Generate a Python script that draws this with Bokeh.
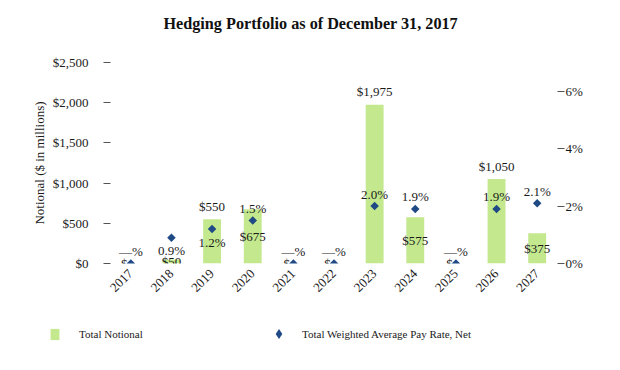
import math
from bokeh.plotting import figure
from bokeh.models import (ColumnDataSource, FactorRange, Range1d, LinearAxis, FixedTicker,
                          NumeralTickFormatter, PrintfTickFormatter, Legend, LegendItem, Label)
from bokeh.core.properties import value
from bokeh.embed import file_html
from bokeh.resources import INLINE

years = ["2017", "2018", "2019", "2020", "2021", "2022", "2023", "2024", "2025", "2026", "2027"]
notional = [0, 50, 550, 675, 0, 0, 1975, 575, 0, 1050, 375]
pay_rate = [0.0, 0.9, 1.2, 1.5, 0.0, 0.0, 2.0, 1.9, 0.0, 1.9, 2.1]
notional_labels = ["$\u2014", "$50", "$550", "$675", "$\u2014", "$\u2014", "$1,975", "$575", "$\u2014", "$1,050", "$375"]
rate_labels = ["\u2014%", "0.9%", "1.2%", "1.5%", "\u2014%", "\u2014%", "2.0%", "1.9%", "\u2014%", "1.9%", "2.1%"]
notional_label_place = ["center", "center", "end", "center", "center", "center", "end", "center", "center", "end", "center"]
rate_label_place = ["above", "below", "below", "above", "above", "above", "above", "above", "above", "above", "above"]
left_ticks = [0, 500, 1000, 1500, 2000, 2500]
right_ticks = [0, 2, 4, 6]
title_text = "Hedging Portfolio as of December 31, 2017"

FONT = "Liberation Serif"
BAR = "#C3E88D"
DIAMOND = "#1F4A85"
TXT = "#1a1a1a"
W = 616

src = ColumnDataSource(dict(
    year=years, notional=notional, rate=pay_rate,
    nlab=notional_labels, rlab=rate_labels,
    ny=[v if pl == "end" else v / 2 for v, pl in zip(notional, notional_label_place)],
    nyoff=[-13 if pl == "end" else 0 for pl in notional_label_place],
    ryoff=[-12 if pl == "above" else 13 for pl in rate_label_place],
))


def strip(height):
    f = figure(width=W, height=height, x_range=FactorRange(*years), y_range=Range1d(5000, 5001),
               output_backend="svg", toolbar_location=None, x_axis_location=None, y_axis_location=None,
               min_border_left=0, min_border_right=0, min_border_top=0, min_border_bottom=0)
    f.outline_line_color = None
    f.grid.grid_line_color = None
    return f


# title strip
tf = strip(40)
tf.add_layout(Label(x=163, y=17, x_units="screen", y_units="screen", text=title_text,
                    text_font=FONT, text_font_size="16.2px", text_font_style="bold",
                    text_color="#111111", text_align="left", text_baseline="middle"))

# main chart
p = figure(width=W, height=260, x_range=FactorRange(*years), y_range=Range1d(0, 2500),
           output_backend="svg", toolbar_location=None,
           min_border_left=110, min_border_right=59, min_border_top=22, min_border_bottom=37)
p.extra_y_ranges = {"pct": Range1d(0, 7)}
p.outline_line_color = None
p.grid.grid_line_color = None

p.vbar(x="year", top="notional", width=0.44, source=src, fill_color=BAR, line_color=None)

p.text(x="year", y="ny", text="nlab", y_offset="nyoff", source=src, text_font=value(FONT),
       text_font_size="13px", text_align="center", text_baseline="middle", text_color=TXT)
p.text(x="year", y="rate", text="rlab", y_offset="ryoff", y_range_name="pct", source=src,
       text_font=value(FONT), text_font_size="13px", text_align="center", text_baseline="middle",
       text_color=TXT)

p.scatter(x="year", y="rate", y_range_name="pct", source=src, marker="square", angle=math.pi / 4,
          size=6, fill_color=DIAMOND, line_color=None)

ya = p.yaxis[0]
ya.ticker = FixedTicker(ticks=left_ticks)
ya.formatter = NumeralTickFormatter(format="$0,0")
ya.axis_line_color = None
ya.major_tick_in = 0
ya.major_tick_out = 7
ya.minor_tick_line_color = None
ya.major_tick_line_color = "#555555"
ya.major_label_standoff = 15
ya.major_label_text_font = FONT
ya.major_label_text_font_size = "13px"
ya.major_label_text_color = TXT
ya.axis_label = "Notional ($ in millions)"
ya.axis_label_text_font = FONT
ya.axis_label_text_font_size = "13px"
ya.axis_label_text_font_style = "normal"
ya.axis_label_text_color = TXT
ya.axis_label_standoff = 3

ra = LinearAxis(y_range_name="pct", ticker=FixedTicker(ticks=right_ticks),
                formatter=PrintfTickFormatter(format="%d%%"))
ra.axis_line_color = None
ra.major_tick_in = 0
ra.major_tick_out = 7
ra.minor_tick_line_color = None
ra.major_tick_line_color = "#555555"
ra.major_label_standoff = 1
ra.major_label_text_font = FONT
ra.major_label_text_font_size = "13px"
ra.major_label_text_color = TXT
p.add_layout(ra, "right")

xa = p.xaxis[0]
xa.axis_line_color = None
xa.major_tick_line_color = None
xa.minor_tick_line_color = None
xa.major_label_orientation = math.pi / 4
xa.major_label_standoff = 2
xa.major_label_text_font = FONT
xa.major_label_text_font_size = "13px"
xa.major_label_text_color = TXT

# legend strip: same series drawn on a range that keeps them out of view
lf = strip(66)
lbars = lf.vbar(x="year", top="notional", width=0.44, source=src, fill_color=BAR, line_color=None)
ldots = lf.scatter(x="year", y="rate", source=src, marker="diamond",
                   size=10, fill_color=DIAMOND, line_color=None)

leg1 = Legend(items=[LegendItem(label="Total Notional", renderers=[lbars])],
              location=(49, 25), orientation="horizontal", glyph_width=11, glyph_height=14,
              label_standoff=19, padding=0, margin=0, border_line_color=None,
              background_fill_alpha=0, label_text_font=FONT, label_text_font_size="11px",
              label_text_color=TXT)
leg2 = Legend(items=[LegendItem(label="Total Weighted Average Pay Rate, Net", renderers=[ldots])],
              location=(266, 20), orientation="horizontal", glyph_width=25, glyph_height=25,
              label_standoff=11, padding=0, margin=0, border_line_color=None,
              background_fill_alpha=0, label_text_font=FONT, label_text_font_size="11px",
              label_text_color=TXT)
lf.add_layout(leg1, "center")
lf.add_layout(leg2, "center")

open("out.html", "w").write(file_html([tf, p, lf], INLINE))
